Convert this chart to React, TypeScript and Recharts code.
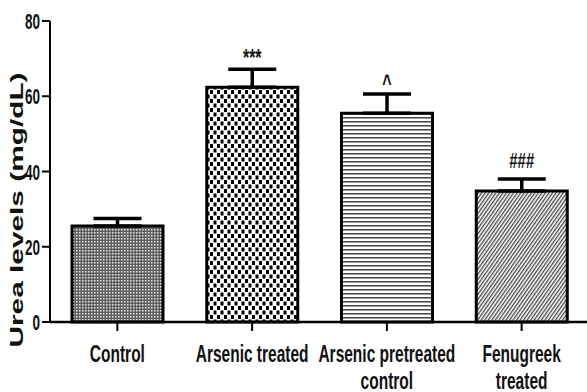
import React from 'react';
import { BarChart, Bar, XAxis, YAxis, ErrorBar, Cell, LabelList } from 'recharts';

const categories = ['Control', 'Arsenic treated', 'Arsenic pretreated\ncontrol', 'Fenugreek\ntreated'];
const ureaMeans = [25.5, 62.4, 55.5, 34.8];
const ureaErrors = [2.0, 4.8, 5.1, 3.2];
const significance = ['', '***', '^', '###'];
const yTicks = [0, 20, 40, 60, 80];
const patternIds = ['patControl', 'patArsenic', 'patPre', 'patFenu'];

const data = categories.map((c, i) => ({
  name: c,
  urea: ureaMeans[i],
  err: [0, ureaErrors[i]],
  note: significance[i],
}));

const FONT = "'Liberation Sans', Arial, Helvetica, sans-serif";

const XTick = (props: any) => {
  const { x, y, payload } = props;
  const lines = String(payload.value).split('\n');
  return (
    <g transform={`translate(${x},${y})`}>
      {lines.map((l, i) => (
        <text
          key={i}
          transform={`translate(0, ${29 + i * 26.5}) scale(1,1.5)`}
          textAnchor="middle"
          fontFamily={FONT}
          fontWeight="bold"
          fontSize={15.5}
          fill="#111"
        >
          {l}
        </text>
      ))}
    </g>
  );
};

const YTick = (props: any) => {
  const { x, y, payload } = props;
  return (
    <text
      transform={`translate(${x},${y + 8}) scale(1,1.6)`}
      textAnchor="end"
      fontFamily={FONT}
      fontWeight="bold"
      fontSize={13.5}
      fill="#111"
    >
      {payload.value}
    </text>
  );
};

const YLabel = () => (
  <text
    transform="translate(23, 210) rotate(-90) scale(1.57,1)"
    textAnchor="middle"
    fontFamily={FONT}
    fontWeight="bold"
    fontSize={19}
    fill="#111"
  >
    Urea levels (mg/dL)
  </text>
);

const NoteLabel = (props: any) => {
  const vb = props.viewBox || {};
  const x = props.x ?? vb.x;
  const y = props.y ?? vb.y;
  const width = props.width ?? vb.width;
  const height = props.height ?? vb.height;
  const value = props.value;
  if (!value) return null;
  let i = typeof props.index === 'number' ? props.index : significance.indexOf(value);
  if (i < 0) i = significance.indexOf(value);
  const pxPerUnit = Math.abs(height) / ureaMeans[i];
  const capY = Math.min(y, y + height) - ureaErrors[i] * pxPerUnit;
  const isHash = String(value).includes('#');
  const lift = isHash ? 11.5 : 3;
  return (
    <text
      transform={`translate(${x + width / 2}, ${capY - lift}) scale(1,1.5)`}
      textAnchor="middle"
      fontFamily={FONT}
      fontWeight="bold"
      fontSize={isHash ? 15 : 16}
      fill="#111"
    >
      {value}
    </text>
  );
};

export default function App() {
  return (
    <div
      style={{
        position: 'absolute',
        left: 0,
        top: 0,
        width: 587,
        height: 392,
        overflow: 'hidden',
        background: '#fff',
      }}
    >
      <BarChart
        width={589}
        height={392}
        data={data}
        margin={{ top: 21, right: 0, left: 0, bottom: 10 }}
        barSize={91}
      >
        <defs>
          <pattern id="patControl" patternUnits="userSpaceOnUse" width="3" height="3">
            <rect x="0" y="0" width="3" height="3" fill="#5e5e5e" />
            <rect x="1" y="1" width="1.5" height="1.5" fill="#e8e8e8" />
          </pattern>
          <pattern id="patArsenic" patternUnits="userSpaceOnUse" width="7" height="9">
            <rect x="0" y="0" width="7" height="9" fill="#fff" />
            <rect x="0" y="0" width="3" height="4" fill="#000" />
            <rect x="3.5" y="4.5" width="3" height="4" fill="#000" />
          </pattern>
          <pattern id="patPre" patternUnits="userSpaceOnUse" width="8" height="4">
            <rect x="0" y="0" width="8" height="4" fill="#fff" />
            <rect x="0" y="1" width="8" height="1.5" fill="#444" />
          </pattern>
          <pattern
            id="patFenu"
            patternUnits="userSpaceOnUse"
            width="2.9"
            height="8"
            patternTransform="rotate(35)"
          >
            <rect x="0" y="0" width="2.9" height="8" fill="#fff" />
            <rect x="0" y="0" width="1.3" height="8" fill="#444" />
          </pattern>
        </defs>
        <XAxis
          dataKey="name"
          interval={0}
          height={60}
          tick={<XTick />}
          tickSize={9}
          tickLine={{ stroke: '#000', strokeWidth: 2 }}
          axisLine={{ stroke: '#000', strokeWidth: 2.5 }}
        />
        <YAxis
          width={50}
          domain={[0, 80]}
          ticks={yTicks}
          interval={0}
          tickSize={8}
          tick={<YTick />}
          tickLine={{ stroke: '#000', strokeWidth: 2 }}
          axisLine={{ stroke: '#000', strokeWidth: 2 }}
          label={<YLabel />}
        />
        <Bar dataKey="urea" stroke="#000" strokeWidth={3} isAnimationActive={false}>
          {data.map((d, i) => (
            <Cell key={d.name} fill={`url(#${patternIds[i]})`} />
          ))}
          <ErrorBar dataKey="err" width={24} strokeWidth={3.5} stroke="#000" direction="y" />
          <LabelList dataKey="note" content={<NoteLabel />} />
        </Bar>
      </BarChart>
    </div>
  );
}
